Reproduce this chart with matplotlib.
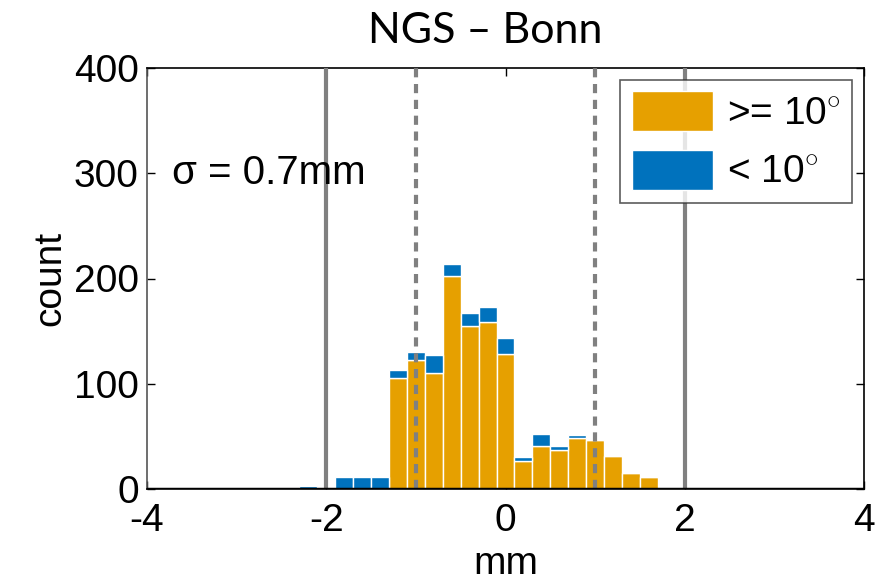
import numpy as np
import matplotlib
matplotlib.use("Agg")
import matplotlib.pyplot as plt

# histogram bins (centers, mm) and counts
bin_centers = [-2.2, -2.0, -1.8, -1.6, -1.4, -1.2, -1.0, -0.8, -0.6, -0.4, -0.2,
               0.0, 0.2, 0.4, 0.6, 0.8, 1.0, 1.2, 1.4, 1.6]
count_high = [0, 0, 0, 0, 0, 105, 123, 110, 202, 155, 159,
              128, 27, 41, 37, 48, 47, 31, 15, 11]   # >= 10 deg
count_low = [3, 1, 11, 11, 11, 8, 7, 17, 12, 12, 14,
             15, 3, 11, 4, 3, 0, 0, 0, 0]            # < 10 deg

sigma_lines = [-2, 2]
half_lines = [-1, 1]
title = "NGS \u2013 Bonn"
sigma_text = "\u03c3 = 0.7mm"

orange = "#E6A000"
blue = "#0072BD"

plt.rcParams["font.family"] = ["Liberation Sans", "DejaVu Sans"]
plt.rcParams["mathtext.fontset"] = "custom"
plt.rcParams["mathtext.rm"] = "Liberation Sans"
plt.rcParams["axes.unicode_minus"] = False

fig = plt.figure(figsize=(8.81, 5.85), dpi=100)
ax = fig.add_axes([147 / 881, 96 / 585, 717 / 881, 421 / 585])

x = np.array(bin_centers)
hi = np.array(count_high)
lo = np.array(count_low)
ax.bar(x, hi, width=0.2, color=orange, edgecolor="white", linewidth=1.0,
       label=r">= 10$^{\circ}$", zorder=2)
ax.bar(x, lo, width=0.2, bottom=hi, color=blue, edgecolor="white", linewidth=1.0,
       label=r"< 10$^{\circ}$", zorder=2)

for v in sigma_lines:
    ax.axvline(v, color="#808080", lw=3, zorder=3)
for v in half_lines:
    ax.axvline(v, color="#808080", lw=3, ls=(0, (2.2, 1.6)), zorder=3)

ax.axhline(0, color="black", lw=2.5, zorder=4)

ax.set_xlim(-4, 4)
ax.set_ylim(0, 400)
ax.set_xticks([-4, -2, 0, 2, 4])
ax.set_yticks([0, 100, 200, 300, 400])
ax.tick_params(direction="in", labelsize=28, length=6, width=1, top=True, right=True)
ax.tick_params(axis="x", pad=10)
ax.tick_params(axis="y", pad=6)
for s in ax.spines.values():
    s.set_linewidth(1.2)
ax.spines["left"].set_color("#555555")

ax.set_xlabel("mm", fontsize=28, labelpad=5)
ax.set_ylabel("count", fontsize=28, labelpad=4)
ax.text(-3.72, 300, sigma_text, fontsize=29, va="center", ha="left")

fig.text(485 / 881, 1 - 43 / 585, title, fontsize=31, family="Lato",
         ha="center", va="baseline")

leg = ax.legend(loc="upper right", fontsize=28, frameon=True, fancybox=False,
                edgecolor="#333333", handlelength=2.1, handleheight=1.2,
                borderaxespad=0.3, labelspacing=0.45, handletextpad=0.35,
                borderpad=0.3)
leg.get_frame().set_linewidth(1.2)

fig.savefig("out.png", dpi=100)
